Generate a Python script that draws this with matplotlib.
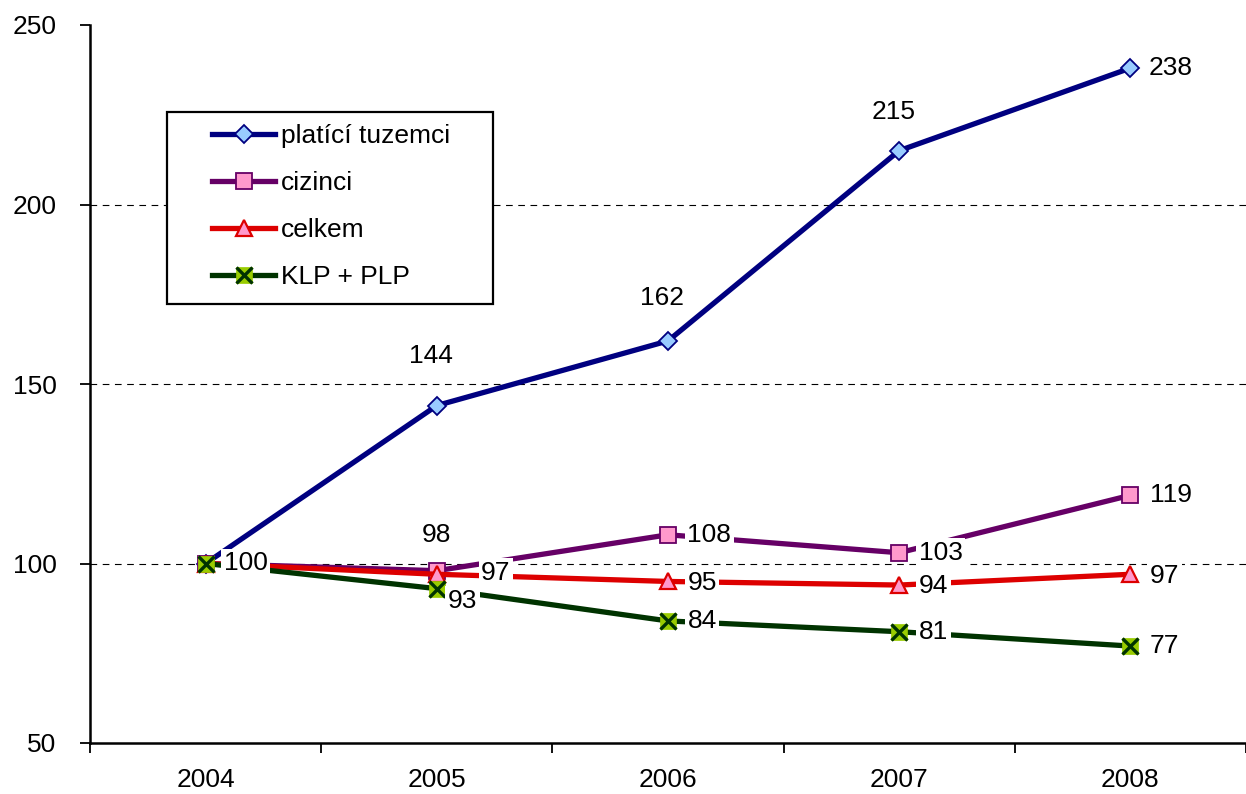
import numpy as np
from matplotlib import pyplot as plt
from matplotlib.patches import Rectangle

plt.rcParams['font.family'] = ['Liberation Sans', 'DejaVu Sans']

# DATA #
roky = ["2004", "2005", "2006", "2007", "2008"]
tuzemci = [100, 144, 162, 215, 238]
cizinci = [100, 98, 108, 103, 119]
celkem = [100, 97, 95, 94, 97]
klp_plp = [100, 93, 84, 81, 77]
nazvy = ["platící tuzemci", "cizinci", "celkem", "KLP + PLP"]

x = np.arange(len(roky))

fig = plt.figure(figsize=(12.46, 7.94), dpi=100)
ax = fig.add_axes([90/1246, 51/794, 1 - 90/1246, (743-25)/794])

# dashed grid
for yy in [100, 150, 200]:
    ax.axhline(yy, color="black", lw=0.8, ls=(0, (6, 5)), zorder=0)

l1, = ax.plot(x, tuzemci, "-D", color="#000080", lw=3.8, ms=9.5,
              mfc="#99CCFF", mec="#000080", mew=1.3, zorder=3)
l2, = ax.plot(x, cizinci, "-s", color="#660066", lw=3.8, ms=11.5,
              mfc="#FF99CC", mec="#660066", mew=1.3, zorder=3)
l3, = ax.plot(x, celkem, "-^", color="#DD0000", lw=3.8, ms=12,
              mfc="#FF99CC", mec="#DD0000", mew=1.6, zorder=3)
l4, = ax.plot(x, klp_plp, "-s", color="#003300", lw=3.8, ms=11.5,
              mfc="#99CC00", mec="#99CC00", mew=0.5, zorder=3)
l4x, = ax.plot(x, klp_plp, "x", color="#003300", ms=11.5, mew=2.4, zorder=4)

box = dict(boxstyle="square,pad=0.1", fc="white", ec="none")
fs = 19

def lab(xi, yi, dx, dy, ha="left"):
    ax.annotate(str(yi), (xi, yi), xytext=(dx, dy), textcoords="offset points",
                ha=ha, va="center", fontsize=fs, bbox=box, zorder=5)

# platící tuzemci
lab(x[0], tuzemci[0], 13, 0)
lab(x[1], tuzemci[1], -4, 36, ha="center")
lab(x[2], tuzemci[2], -4, 31, ha="center")
lab(x[3], tuzemci[3], -4, 28, ha="center")
lab(x[4], tuzemci[4], 13, 0)
# cizinci
lab(x[1], cizinci[1], 0, 26, ha="center")
for i in range(2, 5):
    lab(x[i], cizinci[i], 14, 0)
# celkem
lab(x[1], celkem[1], 32, 1)
for i in range(2, 5):
    lab(x[i], celkem[i], 14, -1)
# KLP + PLP
lab(x[1], klp_plp[1], 8, -9)
for i in range(2, 5):
    lab(x[i], klp_plp[i], 14, 0)

ax.set_xlim(-0.5, 4.483)
ax.set_ylim(50, 250)
ax.set_yticks([50, 100, 150, 200, 250])
ax.set_xticks(x)
ax.set_xticklabels(roky)
ax.set_xticks(np.arange(-0.5, 4.6, 1.0), minor=True)
ax.tick_params(axis="x", which="major", length=0, pad=18, labelsize=fs)
ax.tick_params(axis="x", which="minor", length=7, width=1.3, direction="out")
ax.tick_params(axis="y", length=7, width=1.3, direction="out", pad=17, labelsize=fs)

for s in ["top", "right"]:
    ax.spines[s].set_visible(False)
for s in ["left", "bottom"]:
    ax.spines[s].set_linewidth(1.8)

# legend box drawn by hand (wide left padding as in the original)
ax.add_patch(Rectangle((77/1156, 1 - 304/718 + 25/718), 326/1156, 192/718,
                       transform=ax.transAxes, fill=True, fc="white",
                       ec="black", lw=1.6, zorder=6))
leg = ax.legend([l1, l2, l3, (l4, l4x)], nazvy,
                loc="upper left", bbox_to_anchor=(122/1156, 1 - 99/718),
                fontsize=fs, frameon=False,
                handlelength=2.4, handletextpad=0.2, labelspacing=0.87,
                borderpad=0, borderaxespad=0)
leg.set_zorder(7)

plt.savefig("out.png", dpi=100)
